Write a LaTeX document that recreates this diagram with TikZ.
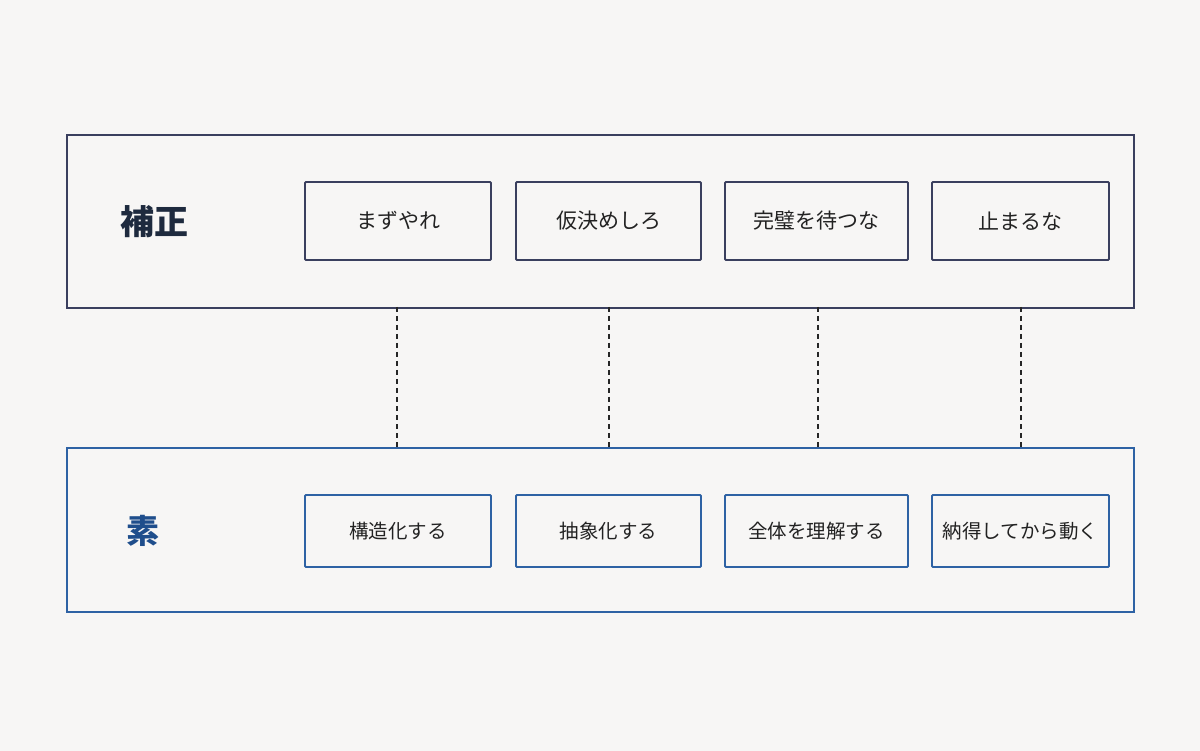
\documentclass[tikz,border=0pt]{standalone}
\usepackage{fontspec}
\newfontfamily\cjk{Noto Sans CJK JP}
\definecolor{bg}{HTML}{F7F6F5}
\definecolor{navy}{HTML}{3A3F5E}
\definecolor{navytext}{HTML}{1E2A3E}
\definecolor{blueline}{HTML}{2E62A4}
\definecolor{bluetext}{HTML}{1F4E8C}
\definecolor{txt}{HTML}{222222}
\begin{document}
\begin{tikzpicture}[x=1pt,y=-1pt,
  outerbox/.style={draw, line width=1.9pt, inner sep=0pt, anchor=north west},
  topbox/.style={draw=navy, line width=1.9pt, rounded corners=1pt, inner sep=0pt, font=\cjk\fontsize{21}{24}\selectfont, text=txt},
  botbox/.style={draw=blueline, line width=1.9pt, rounded corners=1pt, inner sep=0pt, font=\cjk\fontsize{19.5}{23}\selectfont, text=txt},
  link/.style={draw=black!85, line width=1.3pt, dash pattern=on 5pt off 4pt}]
\fill[bg] (0,0) rectangle (1200,751);
\useasboundingbox (0,0) rectangle (1200,751);
% outer frames
\node[outerbox, draw=navy, minimum width=1067pt, minimum height=173pt] (top) at (66,134) {};
\node[outerbox, draw=blueline, minimum width=1067pt, minimum height=164pt] (bot) at (66,447) {};
% labels
\node[font=\cjk\bfseries\fontsize{34}{38}\selectfont, text=navytext] (tl) at (154,222) {補正};
\node[font=\cjk\bfseries\fontsize{33}{38}\selectfont, text=bluetext] (bl) at (143,531) {素};
% top boxes
\node[topbox, minimum width=186pt, minimum height=78pt] (t1) at (398,221) {まずやれ};
\node[topbox, minimum width=185pt, minimum height=78pt] (t2) at (608.5,221) {仮決めしろ};
\node[topbox, minimum width=183pt, minimum height=78pt] (t3) at (816.5,221) {完璧を待つな};
\node[topbox, minimum width=177pt, minimum height=78pt] (t4) at (1020.5,221) {止まるな};
% bottom boxes
\node[botbox, minimum width=186pt, minimum height=72pt] (b1) at (398,531) {構造化する};
\node[botbox, minimum width=185pt, minimum height=72pt] (b2) at (608.5,531) {抽象化する};
\node[botbox, minimum width=183pt, minimum height=72pt] (b3) at (816.5,531) {全体を理解する};
\node[botbox, minimum width=177pt, minimum height=72pt] (b4) at (1020.5,531) {納得してから動く};
% dashed links
\coordinate (c1t) at (397,307); \coordinate (c1b) at (397,447);
\coordinate (c2t) at (609,307); \coordinate (c2b) at (609,447);
\coordinate (c3t) at (818,307); \coordinate (c3b) at (818,447);
\coordinate (c4t) at (1021,307); \coordinate (c4b) at (1021,447);
\draw[link] (c1t) -- (c1b);
\draw[link] (c2t) -- (c2b);
\draw[link] (c3t) -- (c3b);
\draw[link] (c4t) -- (c4b);
\end{tikzpicture}
\end{document}
